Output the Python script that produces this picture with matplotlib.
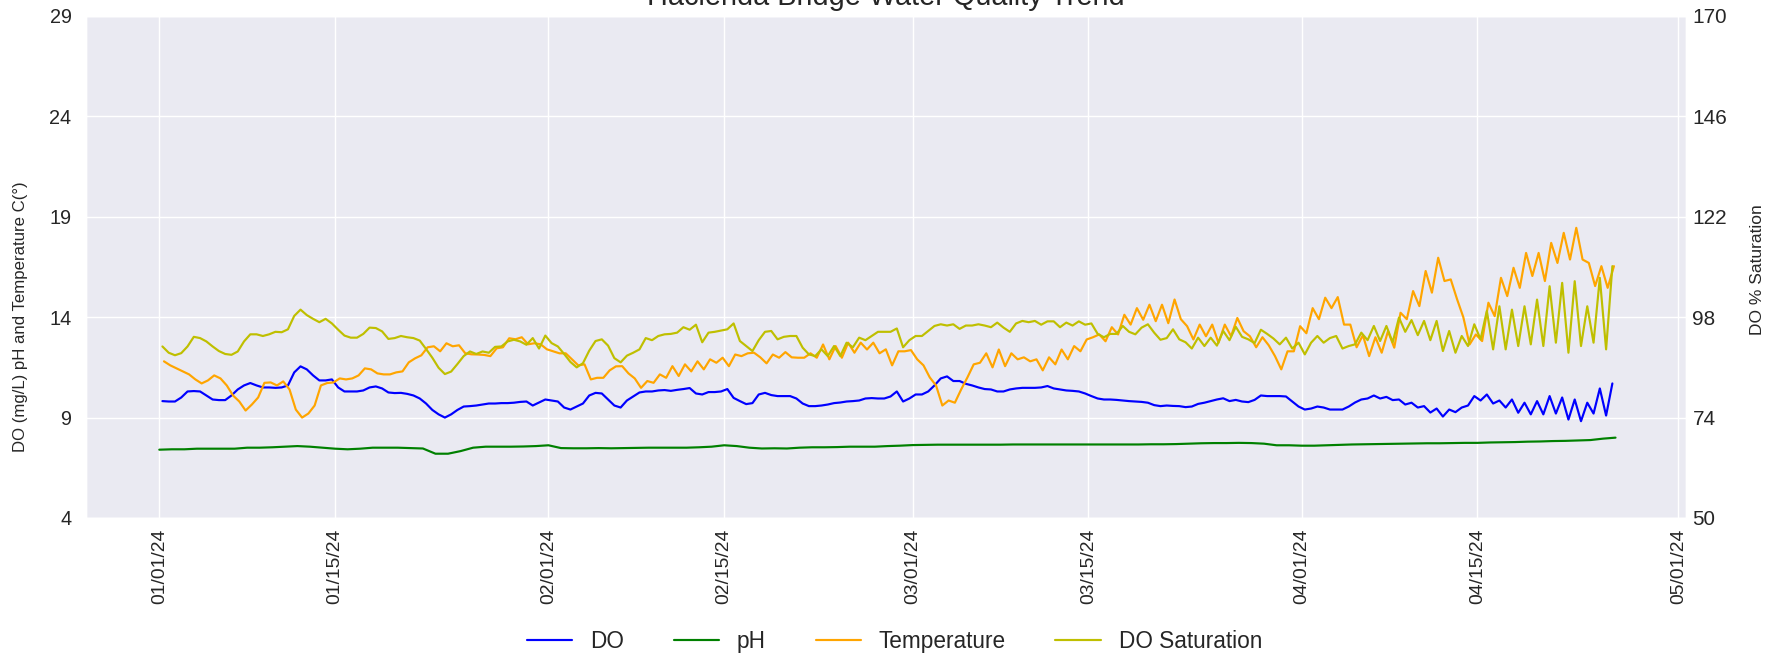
import numpy as np
import pandas as pd
import matplotlib
matplotlib.use('Agg')
import matplotlib.pyplot as plt
import matplotlib.dates as mdates
import seaborn as sns


# Lecturas de la sonda, dos por día (mañana / tarde)
do_mgl = [
    9.82, 9.8, 9.8, 10.0, 10.3, 10.32, 10.3, 10.1, 9.9, 9.87,
    9.87, 10.1, 10.4, 10.6, 10.72, 10.6, 10.5, 10.5, 10.48, 10.5,
    10.6, 11.25, 11.55, 11.4, 11.1, 10.85, 10.85, 10.9, 10.5, 10.3,
    10.3, 10.3, 10.35, 10.5, 10.55, 10.45, 10.25, 10.22, 10.23, 10.18,
    10.1, 9.95, 9.7, 9.38, 9.16, 9.0, 9.16, 9.38, 9.55, 9.57,
    9.6, 9.65, 9.7, 9.7, 9.72, 9.72, 9.74, 9.78, 9.8, 9.6,
    9.75, 9.9, 9.85, 9.8, 9.5, 9.4, 9.55, 9.7, 10.1, 10.23,
    10.2, 9.9, 9.6, 9.5, 9.85, 10.05, 10.25, 10.3, 10.3, 10.35,
    10.37, 10.33, 10.38, 10.42, 10.47, 10.2, 10.15, 10.27, 10.27, 10.3,
    10.42, 9.98, 9.82, 9.67, 9.72, 10.15, 10.23, 10.12, 10.07, 10.07,
    10.07, 9.95, 9.7, 9.57, 9.57, 9.6, 9.65, 9.72, 9.75, 9.8,
    9.82, 9.85, 9.95, 9.97, 9.95, 9.95, 10.05, 10.3, 9.8, 9.95,
    10.15, 10.15, 10.3, 10.6, 10.95, 11.05, 10.82, 10.82, 10.68, 10.6,
    10.5, 10.42, 10.4, 10.3, 10.3, 10.4, 10.45, 10.48, 10.48, 10.48,
    10.5, 10.57, 10.45, 10.4, 10.35, 10.33, 10.3, 10.2, 10.07, 9.95,
    9.9, 9.9, 9.88, 9.85, 9.82, 9.8, 9.78, 9.74, 9.62, 9.57,
    9.6, 9.58, 9.57, 9.52, 9.55, 9.68, 9.74, 9.82, 9.9, 9.96,
    9.82, 9.88, 9.8, 9.77, 9.88, 10.1, 10.07, 10.07, 10.07, 10.05,
    9.8, 9.55, 9.4, 9.45, 9.55, 9.5, 9.4, 9.4, 9.4, 9.55,
    9.75, 9.9, 9.95, 10.1, 9.95, 10.03, 9.87, 9.9, 9.65, 9.74,
    9.5, 9.57, 9.25, 9.45, 9.05, 9.4, 9.27, 9.5, 9.6, 10.07,
    9.85, 10.15, 9.7, 9.85, 9.5, 9.9, 9.24, 9.74, 9.16, 9.82,
    9.16, 10.07, 9.2, 10.0, 8.9, 9.9, 8.82, 9.74, 9.2, 10.45,
    9.1, 10.7,
]

temp_c = [
    11.8, 11.6, 11.45, 11.3, 11.15, 10.9, 10.7, 10.85, 11.1, 10.95,
    10.6, 10.1, 9.8, 9.35, 9.65, 10.0, 10.73, 10.75, 10.6, 10.8,
    10.4, 9.4, 9.0, 9.2, 9.6, 10.6, 10.72, 10.75, 10.95, 10.9,
    10.95, 11.1, 11.45, 11.4, 11.2, 11.15, 11.15, 11.25, 11.3, 11.75,
    11.95, 12.1, 12.5, 12.55, 12.3, 12.7, 12.55, 12.6, 12.2, 12.15,
    12.14, 12.12, 12.06, 12.45, 12.5, 12.95, 12.9, 13.0, 12.65, 12.7,
    12.65, 12.4, 12.3, 12.2, 12.2, 11.9, 11.6, 11.65, 10.9, 10.98,
    10.98, 11.35, 11.55, 11.56, 11.2, 10.95, 10.48, 10.82, 10.73, 11.15,
    10.98, 11.56, 11.07, 11.65, 11.3, 11.8, 11.4, 11.9, 11.73, 11.98,
    11.56, 12.14, 12.06, 12.2, 12.23, 12.0, 11.7, 12.14, 11.98, 12.26,
    12.0, 11.98, 11.98, 12.2, 11.98, 12.64, 11.9, 12.56, 11.98, 12.73,
    12.23, 12.73, 12.39, 12.73, 12.2, 12.4, 11.6, 12.3, 12.3, 12.36,
    11.9, 11.6, 11.0, 10.6, 9.6, 9.85, 9.74, 10.4, 11.0, 11.65,
    11.73, 12.2, 11.5, 12.39, 11.56, 12.2, 11.9, 12.0, 11.8, 11.9,
    11.35, 12.0, 11.65, 12.39, 11.9, 12.56, 12.3, 12.89, 13.0, 13.14,
    12.8, 13.5, 13.14, 14.12, 13.63, 14.45, 13.87, 14.62, 13.8, 14.62,
    13.7, 14.88, 13.9, 13.55, 12.89, 13.63, 13.05, 13.63, 12.72, 13.63,
    13.05, 13.96, 13.3, 13.05, 12.5, 13.0, 12.6, 12.06, 11.4, 12.3,
    12.3, 13.55, 13.2, 14.45, 13.9, 14.97, 14.45, 15.0, 13.63, 13.63,
    12.5, 13.1, 12.06, 13.0, 12.23, 13.3, 12.48, 14.22, 13.9, 15.3,
    14.55, 16.3, 15.22, 16.96, 15.8, 15.88, 14.9, 14.0, 12.64, 13.14,
    12.81, 14.72, 14.05, 15.96, 15.05, 16.46, 15.46, 17.2, 16.05, 17.2,
    15.8, 17.7, 16.7, 18.2, 16.87, 18.45, 16.87, 16.7, 15.55, 16.54,
    15.46, 16.54,
]

do_sat = [
    91.0, 89.5, 88.9, 89.4, 91.0, 93.3, 93.0, 92.2, 91.0, 89.9,
    89.2, 89.0, 89.8, 92.2, 93.9, 93.9, 93.5, 93.9, 94.5, 94.4,
    95.1, 98.3, 99.8, 98.5, 97.6, 96.8, 97.6, 96.5, 95.0, 93.6,
    93.1, 93.1, 94.0, 95.5, 95.4, 94.6, 92.8, 93.0, 93.5, 93.2,
    93.0, 92.4, 90.4, 88.3, 85.9, 84.4, 85.0, 86.8, 88.7, 89.8,
    89.2, 89.8, 89.5, 90.9, 91.0, 92.2, 92.6, 92.2, 91.4, 93.0,
    90.5, 93.6, 91.8, 91.0, 89.2, 87.3, 86.0, 87.0, 90.0, 92.3,
    92.7, 91.2, 88.2, 87.2, 88.8, 89.5, 90.3, 93.0, 92.5, 93.5,
    93.9, 94.0, 94.3, 95.6, 95.0, 96.2, 92.0, 94.3, 94.5, 94.8,
    95.1, 96.5, 92.3, 91.1, 89.9, 92.5, 94.5, 94.7, 92.7, 93.3,
    93.5, 93.5, 90.7, 89.1, 88.7, 90.3, 88.7, 91.1, 88.7, 91.9,
    90.8, 93.1, 92.5, 93.5, 94.5, 94.5, 94.5, 95.3, 90.8, 92.5,
    93.5, 93.5, 94.7, 95.9, 96.3, 96.0, 96.3, 95.2, 96.0, 96.0,
    96.3, 96.0, 95.6, 96.7, 95.5, 94.5, 96.5, 97.1, 96.8, 97.1,
    96.2, 97.0, 97.0, 95.6, 96.7, 96.0, 97.0, 96.2, 96.5, 94.0,
    93.2, 94.0, 94.0, 95.9, 94.5, 93.9, 95.5, 96.3, 94.3, 92.6,
    93.0, 95.1, 92.7, 92.0, 90.5, 93.1, 91.1, 93.1, 91.2, 94.7,
    92.5, 95.7, 93.3, 92.7, 91.8, 95.0, 94.0, 92.9, 91.5, 93.1,
    90.5, 91.9, 89.1, 91.9, 93.5, 91.9, 93.0, 93.5, 90.5, 91.1,
    91.5, 94.3, 92.5, 95.9, 92.3, 95.9, 92.0, 97.9, 94.5, 97.3,
    93.7, 97.1, 92.5, 97.1, 89.9, 94.7, 89.5, 93.5, 91.1, 96.3,
    92.7, 99.5, 90.3, 100.6, 90.3, 99.8, 91.1, 100.6, 91.5, 102.2,
    91.1, 105.4, 91.9, 106.2, 89.5, 106.6, 91.1, 100.6, 91.9, 107.4,
    90.3, 110.2,
]

# pH, una lectura diaria
ph = [
    7.4, 7.42, 7.42, 7.45, 7.45, 7.45, 7.45, 7.5, 7.5, 7.52,
    7.55, 7.58, 7.55, 7.5, 7.45, 7.42, 7.45, 7.5, 7.5, 7.5,
    7.48, 7.46, 7.2, 7.2, 7.33, 7.5, 7.55, 7.55, 7.55, 7.56,
    7.58, 7.62, 7.48, 7.47, 7.47, 7.48, 7.47, 7.48,
    7.49, 7.5, 7.5, 7.5, 7.5, 7.52, 7.55, 7.62, 7.58, 7.5,
    7.46, 7.47, 7.46, 7.5, 7.52, 7.52, 7.53, 7.55, 7.55, 7.55,
    7.58, 7.6, 7.63, 7.64, 7.65, 7.65, 7.65, 7.65, 7.65, 7.65,
    7.66, 7.66, 7.66, 7.66, 7.66, 7.66, 7.66, 7.66, 7.66,
    7.66, 7.66, 7.67, 7.67, 7.68, 7.7,
    7.72, 7.73, 7.73, 7.74, 7.73, 7.7,
    7.62, 7.62, 7.6, 7.6, 7.62, 7.64,
    7.66, 7.67, 7.68, 7.69, 7.7, 7.71, 7.72, 7.72, 7.73, 7.74,
    7.74, 7.76, 7.77, 7.78, 7.8, 7.81, 7.83, 7.84, 7.86, 7.88,
    7.95, 8.0,
]

do_start = '2024-01-01 06:00'
temp_start = '2024-01-01 09:00'
ph_start = '2024-01-01 00:00'

left_ticks = [4, 9, 14, 19, 24, 29]
right_ticks = [50, 74, 98, 122, 146, 170]

# Estilo seaborn (fondo gris con rejilla blanca)
sns.set_style('darkgrid')
plt.rcParams['font.family'] = ['Liberation Sans', 'DejaVu Sans']

do_times = pd.date_range(do_start, periods=len(do_mgl), freq='12h')
temp_times = pd.date_range(temp_start, periods=len(temp_c), freq='12h')
ph_times = pd.date_range(ph_start, periods=len(ph), freq='D')

fig = plt.figure(figsize=(1789 / 130, 660 / 130), dpi=130)
ax1 = fig.add_axes([0.0481, 0.2152, 0.8944, 0.7606])

ax1.plot(do_times, do_mgl, color='blue', lw=1.2, label='DO')
ax1.plot(ph_times, ph, color='green', lw=1.2, label='pH')
ax1.plot(temp_times, temp_c, color='orange', lw=1.2, label='Temperature')
ax1.set_ylim(4, 29)
ax1.set_yticks(left_ticks)
ax1.set_ylabel('DO (mg/L) pH and Temperature C(°)', fontsize=9.3)
ax1.yaxis.set_label_coords(-0.036, 0.40)
ax1.set_title('Hacienda Bridge Water Quality Trend', fontsize=16)

# Eje secundario para % de saturación
ax2 = ax1.twinx()
ax2.plot(do_times, do_sat, color='y', lw=1.2, label='DO Saturation')
ax2.set_ylim(50, 170)
ax2.set_yticks(right_ticks)
ax2.set_ylabel('DO % Saturation', fontsize=9.6)
ax2.yaxis.set_label_coords(1.040, 0.495)
ax2.grid(False)

ax1.set_xlim(pd.Timestamp('2023-12-26 04:00'), pd.Timestamp('2024-05-01 15:00'))
ax1.xaxis.set_major_locator(mdates.DayLocator(bymonthday=[1, 15]))
ax1.xaxis.set_major_formatter(mdates.DateFormatter('%m/%d/%y'))
for lbl in ax1.get_xticklabels():
    lbl.set_rotation(90)
ax1.tick_params(axis='x', labelsize=10.7, length=0, pad=6)
ax1.tick_params(axis='y', labelsize=11, length=0, pad=8)
ax2.tick_params(labelsize=11.5, length=0)

# Leyenda combinada debajo del gráfico
h1, l1 = ax1.get_legend_handles_labels()
h2, l2 = ax2.get_legend_handles_labels()
fig.legend(h1 + h2, l1 + l2, loc='lower center', bbox_to_anchor=(0.5, -0.02),
           ncol=4, frameon=False, fontsize=12.5, columnspacing=2.2)

fig.savefig('out.png', dpi=130)
plt.close()
